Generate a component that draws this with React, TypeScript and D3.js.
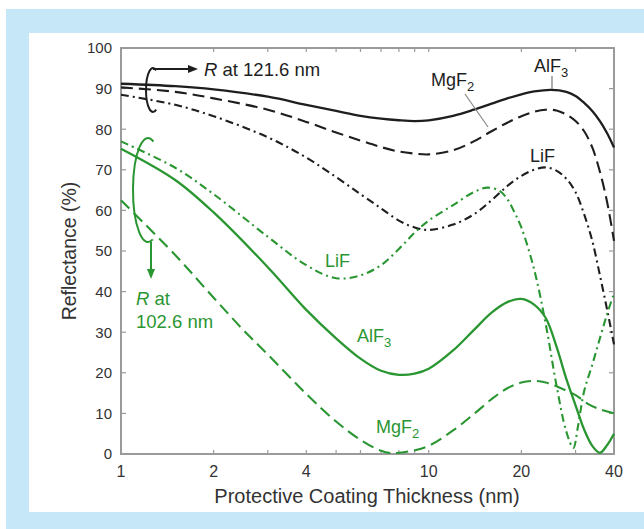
import React from "react";
import * as d3 from "d3";

const W = 644, H = 529;
const xTicksLabeled = [1, 2, 4, 10, 20, 40];
const xTicksAll = [1, 2, 3, 4, 5, 6, 7, 8, 9, 10, 20, 30, 40];
const yTicks = [0, 10, 20, 30, 40, 50, 60, 70, 80, 90, 100];

// Black: R at 121.6 nm
const blackAlF3: [number, number][] = [
  [1, 91.2], [1.5, 90.6], [2, 89.8], [3, 88], [4, 86], [5, 84.5], [6, 83.3], [7, 82.6], [8, 82.2], [9, 82],
  [10, 82.2], [12, 83.3], [14, 84.8], [16, 86.3], [18, 87.6], [20, 88.6], [22, 89.3], [25, 89.7], [28, 89.2],
  [30, 88.2], [32, 86.5], [34, 84.5], [36, 82], [38, 79], [40, 75.5],
];
const blackMgF2: [number, number][] = [
  [1, 90.3], [1.5, 89.2], [2, 87.6], [3, 84.8], [4, 81.8], [5, 79.2], [6, 77.2], [7, 75.6], [8, 74.5], [9, 74],
  [10, 73.8], [12, 74.8], [14, 77], [16, 79.5], [18, 81.6], [20, 83.2], [22, 84.3], [24, 84.8], [26, 84.6],
  [28, 83.6], [30, 82], [32, 79.5], [34, 75.5], [36, 69.5], [38, 62], [40, 52.5],
];
const blackLiF: [number, number][] = [
  [1, 88.5], [1.5, 86], [2, 83.2], [3, 78], [4, 73], [5, 68.2], [6, 64], [7, 60.5], [8, 57.5], [9, 55.8],
  [10, 55.2], [12, 56.5], [14, 59], [16, 62.5], [18, 66], [20, 68.5], [22, 70], [24, 70.6], [26, 69.8],
  [28, 67.8], [30, 64.5], [32, 59], [34, 52.5], [36, 44], [38, 35.5], [40, 27],
];
// Green: R at 102.6 nm
const greenAlF3: [number, number][] = [
  [1, 75.2], [1.5, 67.5], [2, 59.5], [3, 46], [4, 35.5], [5, 28.5], [6, 23.5], [7, 20.5], [8, 19.5], [9, 19.8],
  [10, 21], [12, 25.5], [14, 30.5], [16, 34.8], [18, 37.4], [20, 38.2], [22, 36.8], [24, 33.5], [26, 26.5],
  [28, 18.5], [30, 12], [32, 6], [34, 2], [36, 0.3], [38, 2.2], [40, 5],
];
const greenMgF2: [number, number][] = [
  [1, 62.5], [1.5, 49], [2, 38.5], [2.5, 30.5], [3, 24.5], [4, 14.8], [5, 8], [6, 3.5], [7, 0.8], [7.6, 0.2],
  [8, 0.3], [9, 0.9], [10, 2], [12, 5.8], [14, 9.8], [16, 13.5], [18, 16.2], [20, 17.6], [22, 18], [24, 17.6],
  [26, 16.7], [28, 15.6], [30, 14.5], [33, 12.3], [36, 11], [40, 10],
];
const greenLiF: [number, number][] = [
  [1, 77], [1.5, 70.5], [2, 64], [3, 53.5], [4, 46.5], [5, 43.3], [6, 44], [7, 46.5], [8, 50.5], [9, 54.5],
  [10, 57.5], [12, 61.3], [14, 64.5], [15.5, 65.6], [17, 64.8], [18, 62.8], [19, 59.5], [20, 55.8], [22, 45.5],
  [24, 32], [26, 17], [28, 5.5], [29.5, 1.5], [30.5, 6.5], [32, 15.5], [34, 22], [36, 28.5], [38, 34.5], [40, 39.6],
];

const FONT = "'Liberation Sans', Arial, Helvetica, sans-serif";
const GREEN = "#2a9632";
const BLACK = "#1e1e1e";
const AXIS = "#9a9a9a";
const TXT = "#333";

export default function App() {
  const x = d3.scaleLog().domain([1, 40]).range([121, 614]);
  const y = d3.scaleLinear().domain([0, 100]).range([454, 48]);
  const line = d3
    .line<[number, number]>()
    .x((d) => x(d[0]))
    .y((d) => y(d[1]))
    .curve(d3.curveCatmullRom.alpha(0.5));

  const series = [
    { d: blackAlF3, c: BLACK, dash: "", w: 2.3 },
    { d: blackMgF2, c: BLACK, dash: "12 6", w: 2.1 },
    { d: blackLiF, c: BLACK, dash: "8 4 2 4", w: 2.1 },
    { d: greenMgF2, c: GREEN, dash: "12 6", w: 2.1 },
    { d: greenLiF, c: GREEN, dash: "8 4 2 4", w: 2.1 },
    { d: greenAlF3, c: GREEN, dash: "", w: 2.3 },
  ];

  const [x0, x1] = x.range();
  const [yb, yt] = y.range();

  const loop = (cx: number, cy: number, rx: number, ry: number, a0: number, a1: number) => {
    const p0 = [cx + rx * Math.cos(a0), cy + ry * Math.sin(a0)];
    const p1 = [cx + rx * Math.cos(a1), cy + ry * Math.sin(a1)];
    return `M${p0[0]},${p0[1]} A${rx},${ry} 0 1 0 ${p1[0]},${p1[1]}`;
  };

  return (
    <svg width={W} height={H} style={{ position: "absolute", left: 0, top: 0 }}>
      <rect x={0} y={0} width={W} height={H} fill="#ffffff" />
      <rect x={6} y={9} width={W - 6} height={H - 9} fill="#c6e7f7" />
      <rect x={29} y={33} width={W - 29} height={512 - 33} fill="#ffffff" />

      {/* ticks */}
      {yTicks.map((t) => (
        <g key={"yt" + t}>
          <line x1={x0} x2={x0 + 5} y1={y(t)} y2={y(t)} stroke={AXIS} strokeWidth={1.2} />
          <line x1={x1} x2={x1 - 5} y1={y(t)} y2={y(t)} stroke={AXIS} strokeWidth={1.2} />
          <text x={112} y={y(t)} dy="0.36em" textAnchor="end" fontFamily={FONT} fontSize={15} fill={TXT}>
            {t}
          </text>
        </g>
      ))}
      {xTicksAll.map((t) => (
        <g key={"xt" + t}>
          <line x1={x(t)} x2={x(t)} y1={yb} y2={yb - 4} stroke={AXIS} strokeWidth={1.2} />
          <line x1={x(t)} x2={x(t)} y1={yt} y2={yt + 4} stroke={AXIS} strokeWidth={1.2} />
        </g>
      ))}
      {xTicksLabeled.map((t) => (
        <text key={"xl" + t} x={x(t)} y={477} textAnchor="middle" fontFamily={FONT} fontSize={16} fill={TXT}>
          {t}
        </text>
      ))}
      <rect x={x0} y={yt} width={x1 - x0} height={yb - yt} fill="none" stroke={AXIS} strokeWidth={2} />

      {/* curves */}
      {series.map((s, i) => (
        <path key={i} d={line(s.d) || ""} fill="none" stroke={s.c} strokeWidth={s.w} strokeDasharray={s.dash || undefined} />
      ))}

      {/* axis titles */}
      <text x={367} y={503} textAnchor="middle" fontFamily={FONT} fontSize={20} fill={TXT}>
        Protective Coating Thickness (nm)
      </text>
      <text transform={`translate(76,${(yt + yb) / 2}) rotate(-90)`} textAnchor="middle" fontFamily={FONT} fontSize={19.5} fill={TXT}>
        Reflectance (%)
      </text>

      {/* black annotation */}
      <path d={loop(153, 90, 7, 22, -1.1, 1.1)} fill="none" stroke={BLACK} strokeWidth={2} />
      <line x1={153} x2={190} y1={69} y2={69} stroke={BLACK} strokeWidth={2} />
      <path d="M198,69 L188,65 L188,73 Z" fill={BLACK} />
      <text x={204} y={76} fontFamily={FONT} fontSize={18.5} fill={BLACK}>
        <tspan fontStyle="italic">R</tspan> at 121.6 nm
      </text>

      {/* green annotation */}
      <path d={loop(148, 190, 15, 52, -1.2, 1.25)} fill="none" stroke={GREEN} strokeWidth={2} />
      <line x1={151} x2={151} y1={242} y2={270} stroke={GREEN} strokeWidth={2} />
      <path d="M151,279 L147,269 L155,269 Z" fill={GREEN} />
      <text x={136} y={305} fontFamily={FONT} fontSize={18.5} fill={GREEN}>
        <tspan fontStyle="italic">R</tspan> at
      </text>
      <text x={136} y={328} fontFamily={FONT} fontSize={18.5} fill={GREEN}>
        102.6 nm
      </text>

      {/* black labels */}
      <text x={534} y={72} fontFamily={FONT} fontSize={18} fill={BLACK}>
        AlF<tspan fontSize={13} dy={5}>3</tspan>
      </text>
      <line x1={552} x2={552} y1={76} y2={89} stroke="#777" strokeWidth={1.2} />
      <text x={431} y={86} fontFamily={FONT} fontSize={18} fill={BLACK}>
        MgF<tspan fontSize={13} dy={5}>2</tspan>
      </text>
      <line x1={465} x2={488} y1={94} y2={127} stroke="#888" strokeWidth={1.2} />
      <text x={530} y={162} fontFamily={FONT} fontSize={18} fill={BLACK}>
        LiF
      </text>

      {/* green labels */}
      <text x={325} y={267} fontFamily={FONT} fontSize={18} fill={GREEN}>
        LiF
      </text>
      <text x={357} y={342} fontFamily={FONT} fontSize={18} fill={GREEN}>
        AlF<tspan fontSize={13} dy={5}>3</tspan>
      </text>
      <text x={376} y={433} fontFamily={FONT} fontSize={18} fill={GREEN}>
        MgF<tspan fontSize={13} dy={5}>2</tspan>
      </text>
    </svg>
  );
}
